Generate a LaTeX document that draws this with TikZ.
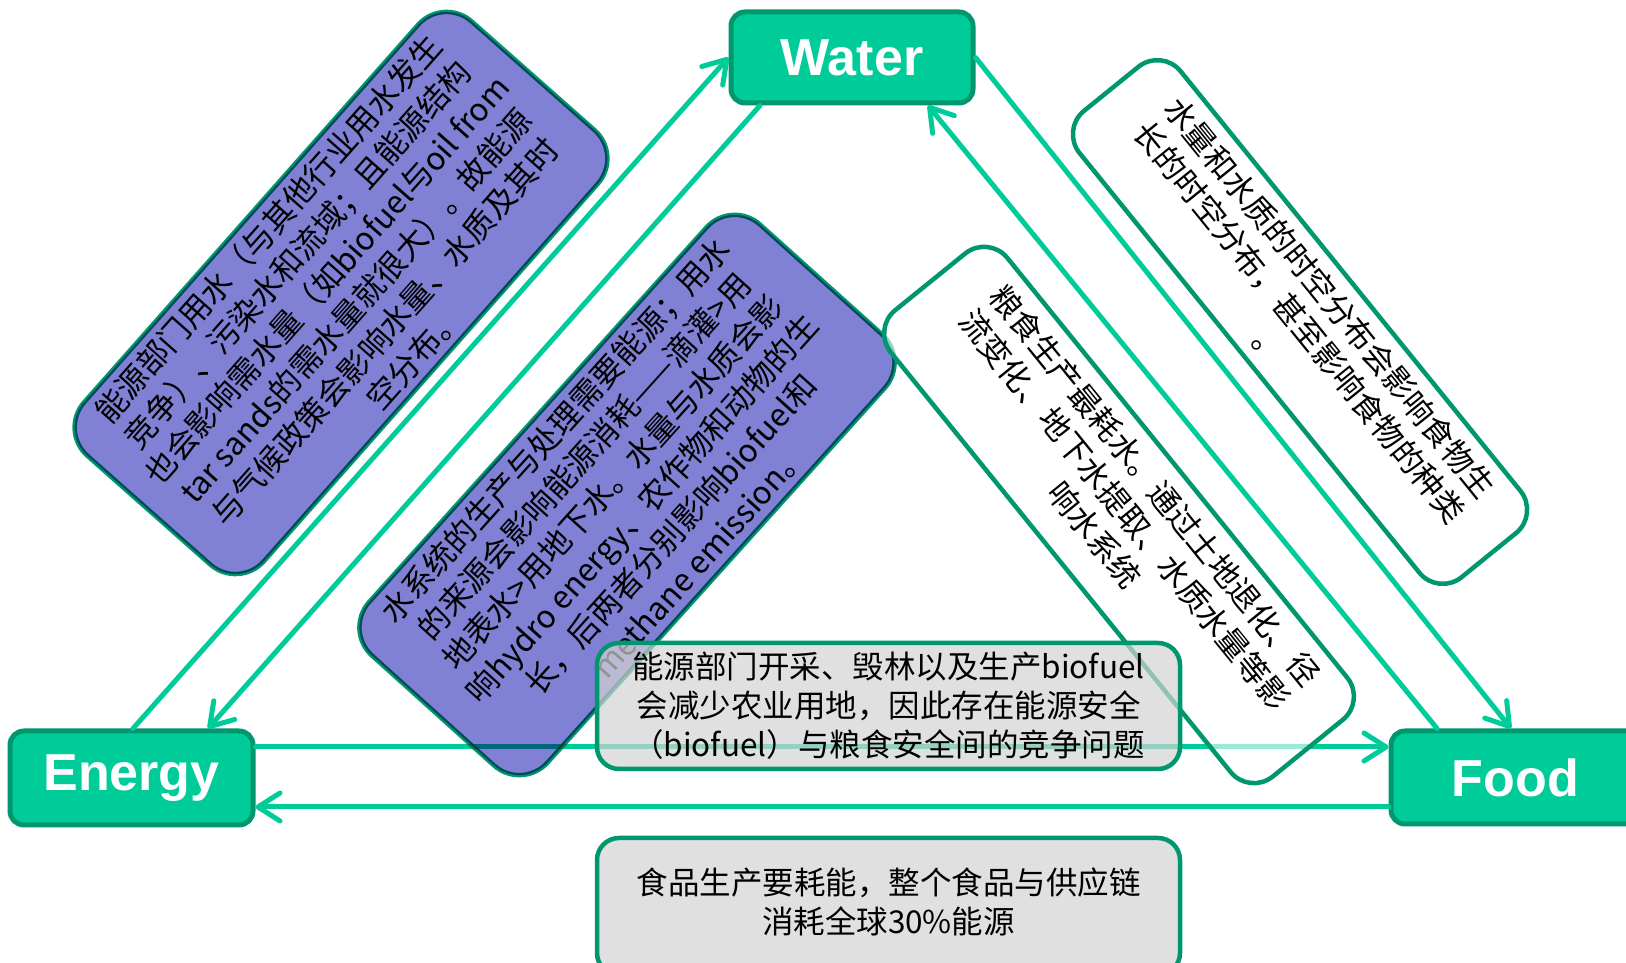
\documentclass[tikz,border=0pt]{standalone}
\usepackage{fontspec}
\newfontfamily\cjkf{Noto Sans CJK SC}
\newfontfamily\labf{Liberation Sans}
\usetikzlibrary{arrows.meta,calc}
\definecolor{gfill}{RGB}{0,204,153}
\definecolor{gline}{RGB}{0,150,110}
\definecolor{purp}{RGB}{128,128,212}
\definecolor{greyf}{RGB}{212,212,212}
\begin{document}
\begin{tikzpicture}[x=1pt,y=1pt,
  hub/.style={draw=gline, line width=5pt, fill=gfill, rounded corners=14pt, inner sep=0pt, text=white, font=\labf\bfseries\fontsize{52}{60}\selectfont},
  link/.style={draw=gfill, line width=5pt, line cap=round, -{Straight Barb[length=22pt,width=28pt,round]}},
  pbox/.style={draw=gline, line width=4.5pt, fill=purp, rounded corners=38pt, inner sep=0pt},
  wbox/.style={draw=gline, line width=4.5pt, fill=white, fill opacity=0.6, draw opacity=1, rounded corners=30pt, inner sep=0pt},
  gbox/.style={draw=gline, line width=4.5pt, fill=greyf, fill opacity=0.7, draw opacity=1, rounded corners=22pt, inner sep=0pt},
  txt/.style={align=center, inner sep=0pt, text=black, font=\cjkf\fontsize{31.5}{39}\selectfont},
]
\useasboundingbox (0,0) rectangle (1626,963);
\fill[white] (0,0) rectangle (1626,963);

% hubs
\node[hub, minimum width=242pt, minimum height=91pt] (water) at (852,905.5) {Water};
\node[hub, minimum width=243pt, minimum height=94pt] (energy) at (131.5,185) {Energy};
\node[hub, minimum width=249pt, minimum height=93pt] (food) at (1515.5,185.5) {Food};

% connectors
\draw[link] ([xshift=1.5pt]energy.north) -- (water.west);
\draw[link] ([xshift=-92pt]water.south) -- ([xshift=76.5pt]energy.north);
\draw[link] (water.east) -- ([xshift=-4.5pt]food.north);
\draw[link] ([xshift=-78.5pt]food.north) -- ([xshift=76pt]water.south);
\draw[link] ([yshift=31pt]energy.east) -- ([yshift=30.5pt]food.west);
\draw[link] ([yshift=-29.5pt]food.west) -- ([yshift=-29pt]energy.east);

% purple boxes
\begin{scope}[blend mode=multiply]
\node[pbox, minimum width=580pt, minimum height=240pt, rotate=48.5] (p1) at (341,670) {};
\node[pbox, minimum width=580pt, minimum height=240pt, rotate=48] (p2) at (627,468) {};
\end{scope}
\node[txt, rotate=48.5] (t1) at (p1.center) {能源部门用水（与其他行业用水发生\\竞争）、污染水和流域；且能源结构\\也会影响需水量（如biofuel与oil from\\tar sands的需水量就很大）。故能源\\与气候政策会影响水量、水质及其时\\空分布。};
\node[txt, rotate=48] (t2) at (p2.center) {水系统的生产与处理需要能源；用水\\的来源会影响能源消耗——滴灌>用\\地表水>用地下水。水量与水质会影\\响hydro energy、农作物和动物的生\\长，后两者分别影响biofuel和\\methane emission。};

% white boxes
\node[wbox, minimum width=600pt, minimum height=130pt, rotate=-51] (w4) at (1300,641) {};
\node[txt, rotate=-51] (t4) at (w4.center) {水量和水质的时空分布会影响食物生\\长的时空分布，甚至影响食物的种类\\。};
\node[wbox, minimum width=600pt, minimum height=150pt, rotate=-51] (w3) at (1119,448) {};
\node[txt, rotate=-51] (t3) at ([shift={(6pt,5pt)}]w3.center) {粮食生产最耗水。通过土地退化、径\\流变化、地下水提取、水质水量等影\\响水系统};

% grey boxes
\node[gbox, minimum width=583pt, minimum height=126pt] (g5) at (888.5,257) {};
\node[txt] (t5) at (g5.center) {能源部门开采、毁林以及生产biofuel\\会减少农业用地，因此存在能源安全\\（biofuel）与粮食安全间的竞争问题};
\node[gbox, minimum width=583pt, minimum height=137pt] (g6) at (888.5,56.5) {};
\node[txt] (t6) at ([yshift=4.5pt]g6.center) {食品生产要耗能，整个食品与供应链\\消耗全球30\%能源};
\end{tikzpicture}
\end{document}
